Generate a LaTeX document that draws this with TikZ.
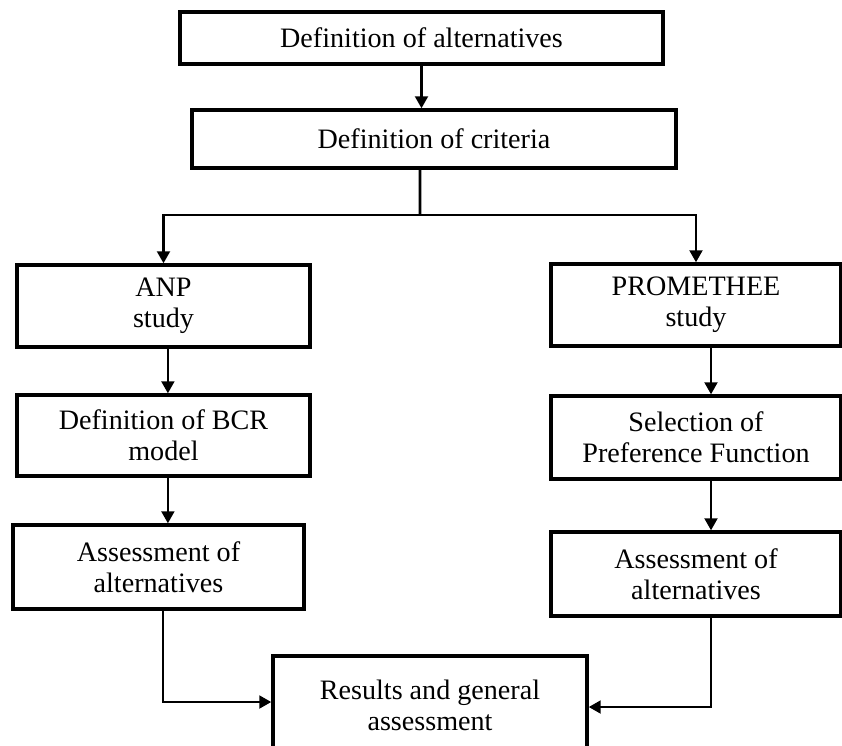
\documentclass[tikz,border=0pt]{standalone}
\usepackage{fontspec}
\setmainfont{Liberation Serif}
\usetikzlibrary{arrows.meta}

\begin{document}
\begin{tikzpicture}[x=0.025cm, y=-0.025cm,
   box/.style={
      draw,
      fill=white,
      line width=2.4pt,
      align=center,
      inner sep=0pt,
      font=\fontsize{20}{22}\selectfont
   },
   arr/.style={line width=1.8pt, -{Triangle[length=0.3cm, width=0.32cm]}}]
   \useasboundingbox (0,0) rectangle (842,745);
   \clip (0,0) rectangle (842,745);

   \node[box, minimum width=12.075cm, minimum height=1.3cm] (alt) at (421.5,38) {Definition of alternatives};
   \node[box, minimum width=12.1cm, minimum height=1.45cm] (crit) at (434,139) {Definition of criteria};

   \node[box, minimum width=7.325cm, minimum height=2.05cm] (anp) at (163.5,306) {ANP\\study};
   \node[box, minimum width=7.325cm, minimum height=2.025cm] (bcr) at (163.5,435.5) {Definition of BCR\\model};
   \node[box, minimum width=7.275cm, minimum height=2.1cm] (assL) at (158.5,567) {Assessment of\\alternatives};

   \node[box, minimum width=7.25cm, minimum height=2.05cm] (prom) at (696,305) {PROMETHEE\\study};
   \node[box, minimum width=7.25cm, minimum height=2.075cm] (sel) at (696,437.5) {Selection of\\Preference Function};
   \node[box, minimum width=7.25cm, minimum height=2.1cm] (assR) at (696,574) {Assessment of\\alternatives};

   \node[box, minimum width=7.85cm, minimum height=2.45cm] (res) at (430,705) {Results and general\\assessment};

   \coordinate (split) at (420,215);

   \draw[arr] (alt.south) -- (alt.south |- crit.north);
   \draw[line width=1.8pt] ([xshift=-0.35cm]crit.south) -- (split);
   \draw[arr] (split) -| (anp.north);
   \draw[arr] (split) -| (prom.north);

   \draw[arr] ([xshift=0.11cm]anp.south) -- ([xshift=0.11cm]bcr.north);
   \draw[arr] ([xshift=0.11cm]bcr.south) -- ([xshift=0.11cm]bcr.south |- assL.north);
   \draw[arr] ([xshift=0.375cm]prom.south) -- ([xshift=0.375cm]sel.north);
   \draw[arr] ([xshift=0.375cm]sel.south) -- ([xshift=0.375cm]assR.north);

   \draw[arr] ([xshift=0.11cm]assL.south) |- ([yshift=0.075cm]res.west);
   \draw[arr] ([xshift=0.375cm]assR.south) |- ([yshift=-0.05cm]res.east);
\end{tikzpicture}
\end{document}
